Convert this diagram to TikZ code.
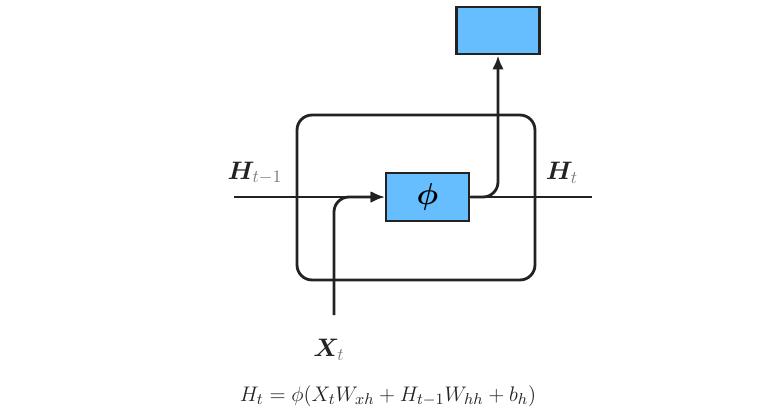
\documentclass[tikz,border=0pt]{standalone}
\usepackage{amsmath,amssymb,bm}
\usepackage{tikz}
\usetikzlibrary{positioning,arrows.meta}
\definecolor{cellblue}{HTML}{66BEFF}
\definecolor{ink}{HTML}{222222}
\definecolor{subgray}{HTML}{777777}

\begin{document}
\begin{tikzpicture}[x=0.02cm,y=-0.02cm,
  cell/.style={draw=ink,line width=1.6pt,rounded corners=0.3cm,minimum width=4.76cm,minimum height=3.3cm},
  unit/.style={draw=ink,line width=1.6pt,fill=cellblue,minimum width=1.66cm,minimum height=0.96cm,inner sep=0pt},
  lab/.style={font=\Large,text=ink},
  arr/.style={-{Latex[length=2.8mm,width=2.3mm]},line width=1.6pt,draw=ink},
  wire/.style={line width=1.6pt,draw=ink}]
  \useasboundingbox (0,0) rectangle (779,413);
  % cell and units
  \node[cell] (rnn) at (416,197.5) {};
  \node[unit,font=\LARGE] (phi) at (427.5,197) {$\bm{\phi}$};
  \node[unit,minimum height=0.94cm] (out) at (498,30.5) {};
  % free ends
  \coordinate (hin) at (234,197);
  \coordinate (hout) at (592,197);
  \coordinate (xin) at (334,315);
  % labels
  \node[lab] (hprev) at (255,173) {$\bm{H}_{\textcolor{subgray}{t-1}}$};
  \node[lab] (hnext) at (562,173) {$\bm{H}_{\textcolor{subgray}{t}}$};
  \node[lab] (xt) at (329,350) {$\bm{X}_{\textcolor{subgray}{t}}$};
  \node[font=\fontsize{12.8}{15}\selectfont,text=ink] (eq) at (388,396) {$H_t = \phi(X_tW_{xh} + H_{t-1}W_{hh} + b_h)$};
  % arrows
  \draw[arr] (hin) -- (phi.west);
  \draw[arr,rounded corners=0.3cm] (xin) |- (phi.west);
  \draw[wire] (phi.east) -- (hout);
  \draw[arr,rounded corners=0.3cm] (phi.east) -| (out.south);
\end{tikzpicture}
\end{document}
